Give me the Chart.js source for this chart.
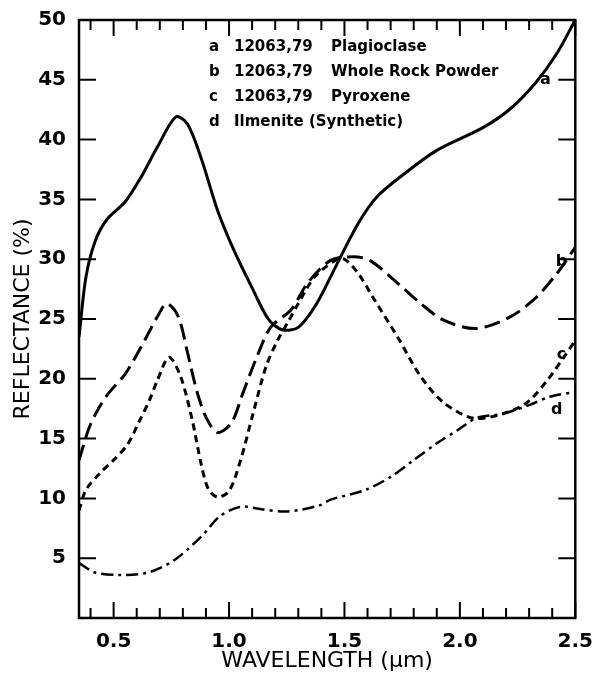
<!DOCTYPE html>
<html lang="en">
<head>
<meta charset="UTF-8">
<title>Reflectance spectra 12063,79</title>
<script src="https://cdn.jsdelivr.net/npm/chart.js"></script>
<style>
  html, body { margin: 0; padding: 0; background: #fff; }
</style>
</head>
<body>
<canvas id="spectra" width="597" height="678"></canvas>
<script>
// wavelength (um) and reflectance (%), one pair of arrays per curve
const plagX = [0.35, 0.38, 0.42, 0.47, 0.55, 0.62, 0.69, 0.77, 0.82, 0.88, 0.95, 1.02, 1.10, 1.17, 1.23, 1.30, 1.38, 1.46, 1.56, 1.64, 1.75, 1.90, 2.10, 2.22, 2.33, 2.42, 2.50];
const plagY = [23.5, 28.5, 31.5, 33.3, 34.8, 36.9, 39.4, 41.9, 41.3, 38.4, 34.1, 30.8, 27.6, 25.0, 24.1, 24.3, 26.3, 29.3, 33.0, 35.2, 37.0, 39.1, 41.0, 42.6, 44.8, 47.2, 50.0];

const rockX = [0.35, 0.40, 0.47, 0.55, 0.62, 0.69, 0.73, 0.78, 0.82, 0.86, 0.90, 0.95, 1.01, 1.06, 1.12, 1.18, 1.27, 1.34, 1.44, 1.54, 1.61, 1.73, 1.83, 1.93, 2.07, 2.22, 2.33, 2.42, 2.50];
const rockY = [13.2, 16.2, 18.6, 20.4, 22.7, 25.2, 26.3, 25.2, 22.2, 19.0, 16.8, 15.5, 16.3, 18.8, 21.8, 24.3, 25.8, 28.0, 29.9, 30.2, 29.9, 28.0, 26.3, 24.9, 24.2, 25.2, 26.8, 28.8, 31.0];

const pyxX = [0.35, 0.38, 0.44, 0.50, 0.56, 0.61, 0.655, 0.69, 0.74, 0.79, 0.84, 0.88, 0.91, 0.95, 1.00, 1.05, 1.10, 1.16, 1.21, 1.26, 1.30, 1.37, 1.46, 1.50, 1.56, 1.63, 1.73, 1.83, 1.93, 2.06, 2.19, 2.29, 2.38, 2.45, 2.50];
const pyxY = [9.0, 10.7, 12.1, 13.2, 14.5, 16.4, 18.2, 19.9, 21.8, 20.2, 16.6, 12.8, 10.8, 10.1, 10.6, 13.2, 16.8, 21.0, 23.2, 24.9, 26.3, 28.5, 29.9, 30.0, 28.8, 26.6, 23.5, 20.2, 18.0, 16.7, 17.1, 18.0, 19.9, 21.8, 23.2];

const ilmX = [0.35, 0.42, 0.53, 0.65, 0.76, 0.88, 0.96, 1.05, 1.14, 1.25, 1.39, 1.44, 1.59, 1.70, 1.80, 1.90, 1.99, 2.07, 2.19, 2.30, 2.39, 2.50];
const ilmY = [4.6, 3.8, 3.6, 3.8, 4.8, 6.8, 8.5, 9.3, 9.1, 8.9, 9.4, 9.9, 10.7, 11.8, 13.2, 14.6, 15.7, 16.7, 17.1, 17.8, 18.5, 18.9];

// axis ticks
const yTicks = [5, 10, 15, 20, 25, 30, 35, 40, 45, 50];
const xTicks = [0.5, 1.0, 1.5, 2.0, 2.5];
const xMinor = [0.4, 0.6, 0.7, 0.8, 0.9, 1.1, 1.2, 1.3, 1.4, 1.6, 1.7, 1.8, 1.9, 2.1, 2.2, 2.3, 2.4];

// key in the upper part of the plot
const keyLetters = ['a', 'b', 'c', 'd'];
const keySamples = ['12063,79', '12063,79', '12063,79', ''];
const keyNames = ['Plagioclase', 'Whole Rock Powder', 'Pyroxene', 'Ilmenite (Synthetic)'];

// curve letters near the right edge: [letter, wavelength, reflectance]
const curveTags = [['a', 2.37, 45.0], ['b', 2.44, 29.8], ['c', 2.44, 22.0], ['d', 2.42, 17.4]];

function pts(xs, ys) {
    return xs.map((v, i) => ({x: v, y: ys[i]}));
}

const frame = {
    id: 'frame',
    afterDraw(chart) {
        const {ctx, chartArea: ca} = chart;
        const x = chart.scales.x, y = chart.scales.y;
        ctx.save();
        ctx.strokeStyle = '#000';
        ctx.lineWidth = 2.5;
        ctx.strokeRect(ca.left, ca.top, ca.right - ca.left, ca.bottom - ca.top);

        // inward tick marks on all four sides
        ctx.lineWidth = 2;
        ctx.beginPath();
        yTicks.forEach(v => {
            const py = y.getPixelForValue(v);
            ctx.moveTo(ca.left, py); ctx.lineTo(ca.left + 17, py);
            ctx.moveTo(ca.right, py); ctx.lineTo(ca.right - 17, py);
        });
        xTicks.concat(xMinor).forEach(v => {
            const px = x.getPixelForValue(v);
            const len = xTicks.includes(v) ? 16 : 10;
            ctx.moveTo(px, ca.bottom); ctx.lineTo(px, ca.bottom - len);
            ctx.moveTo(px, ca.top); ctx.lineTo(px, ca.top + len);
        });
        ctx.stroke();

        // key
        ctx.fillStyle = '#000';
        ctx.textBaseline = 'middle';
        ctx.textAlign = 'left';
        ctx.font = 'bold 15px "DejaVu Sans"';
        keyLetters.forEach((k, i) => {
            const ty = 47 + i * 25;
            ctx.fillText(k, 209, ty);
            if (keySamples[i]) {
                ctx.fillText(keySamples[i], 234, ty);
                ctx.fillText(keyNames[i], 331, ty);
            } else {
                ctx.fillText(keyNames[i], 234, ty);
            }
        });

        // curve letters
        ctx.textAlign = 'center';
        ctx.font = 'bold 16px "DejaVu Sans"';
        curveTags.forEach(t => {
            ctx.fillText(t[0], x.getPixelForValue(t[1]), y.getPixelForValue(t[2]));
        });
        ctx.restore();
    }
};

new Chart(document.getElementById('spectra'), {
    type: 'line',
    data: {
        datasets: [
            {label: 'a 12063,79 Plagioclase', data: pts(plagX, plagY), borderWidth: 3},
            {label: 'b 12063,79 Whole Rock Powder', data: pts(rockX, rockY), borderWidth: 3, borderDash: [16, 7]},
            {label: 'c 12063,79 Pyroxene', data: pts(pyxX, pyxY), borderWidth: 3, borderDash: [7, 5]},
            {label: 'd Ilmenite (Synthetic)', data: pts(ilmX, ilmY), borderWidth: 2.5, borderDash: [12, 5, 3, 5]}
        ]
    },
    options: {
        responsive: false,
        animation: false,
        layout: {padding: {top: 20, right: 18, left: 0, bottom: 0}},
        elements: {
            line: {borderColor: '#000', tension: 0.3, fill: false, borderCapStyle: 'butt'},
            point: {radius: 0}
        },
        scales: {
            x: {
                type: 'linear',
                min: 0.35,
                max: 2.5,
                grid: {display: false},
                border: {display: false},
                afterBuildTicks: s => { s.ticks = xTicks.map(v => ({value: v})); },
                afterFit: s => { s.height = 60; },
                ticks: {
                    color: '#000',
                    padding: 4,
                    maxRotation: 0,
                    font: {family: 'DejaVu Sans', size: 20, weight: 'bold'},
                    callback: v => v.toFixed(1)
                },
                title: {
                    display: true,
                    text: 'WAVELENGTH (μm)',
                    color: '#000',
                    font: {family: 'DejaVu Sans', size: 22},
                    padding: {top: 0, bottom: 4}
                }
            },
            y: {
                min: 0,
                max: 50,
                grid: {display: false},
                border: {display: false},
                afterBuildTicks: s => { s.ticks = yTicks.map(v => ({value: v})); },
                afterFit: s => { s.width = 79; },
                ticks: {
                    color: '#000',
                    padding: 5,
                    font: {family: 'DejaVu Sans', size: 20, weight: 'bold'}
                },
                title: {
                    display: true,
                    text: 'REFLECTANCE (%)',
                    color: '#000',
                    font: {family: 'DejaVu Sans', size: 22},
                    padding: {top: 10, bottom: 0}
                }
            }
        },
        plugins: {
            legend: {display: false},
            tooltip: {enabled: false}
        }
    },
    plugins: [frame]
});
</script>
</body>
</html>
